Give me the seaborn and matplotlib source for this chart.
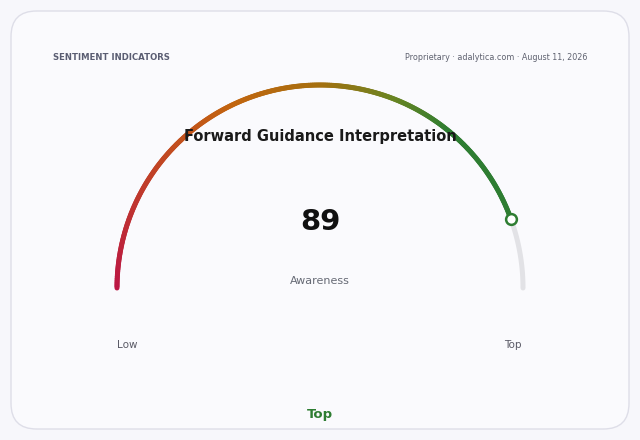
import numpy as np
import matplotlib
matplotlib.use("Agg")
import matplotlib.pyplot as plt
from matplotlib.collections import LineCollection
from matplotlib.colors import LinearSegmentedColormap
from matplotlib.patches import FancyBboxPatch
import seaborn as sns

# gauge data
value = 89
min_value = 0
max_value = 100
metric_label = 'Awareness'
title = 'Forward Guidance Interpretation'
band_label = 'Top'
end_labels = ['Low', 'Top']
gradient_stops = [0.0, 0.25, 0.36, 0.5, 0.62, 0.72, 1.0]
gradient_colors = ['#bb1644', '#c24e1e', '#c2650f', '#a66f0f', '#6a8422',
                   '#2e7d32', '#2e7d32']

sns.set_theme(style="white")
plt.rcParams['font.family'] = ['DejaVu Sans']

W, H = 640, 440
fig = plt.figure(figsize=(6.4, 4.4), dpi=100)
fig.patch.set_facecolor('#f7f7fb')

# card
card = FancyBboxPatch((11 / W, 11 / H), 618 / W, 418 / H,
                      boxstyle="round,pad=0,rounding_size=0.04",
                      transform=fig.transFigure, facecolor='#fafafd',
                      edgecolor='#dedee8', linewidth=1.0, mutation_aspect=W / H,
                      zorder=0.5)
fig.patches.append(card)

# gauge axes: centre at (320, 288) px, radius 203 px
cx, cy, r = 320, 288, 203
ax = fig.add_axes([0, 0, 1, 1])
ax.set_zorder(2)
ax.set_xlim((0 - cx) / r, (W - cx) / r)
ax.set_ylim((cy - H) / r, cy / r)
ax.axis('off')
ax.patch.set_alpha(0)

frac = (value - min_value) / (max_value - min_value)
theta_val = np.pi * (1 - frac)

# background track
t_bg = np.linspace(theta_val, 0, 100)
ax.plot(np.cos(t_bg), np.sin(t_bg), color='#e2e2e6', lw=3.6,
        solid_capstyle='round', zorder=1)

# gradient value arc
n = 300
t = np.linspace(np.pi, theta_val, n)
pts = np.column_stack([np.cos(t), np.sin(t)])
segs = np.stack([pts[:-1], pts[1:]], axis=1)
pos = np.linspace(0, 1, n - 1) * frac
cmap = LinearSegmentedColormap.from_list('gauge', list(zip(gradient_stops, gradient_colors)))
lc = LineCollection(segs, colors=cmap(pos), linewidths=3.6, capstyle='round', zorder=2)
ax.add_collection(lc)

# marker
ax.scatter([np.cos(theta_val)], [np.sin(theta_val)], s=60, facecolor='white',
           edgecolor='#2e7d32', linewidth=1.8, zorder=3)


def ftext(x, y, s, **kw):
    fig.text(x / W, 1 - y / H, s, zorder=5, **kw)


ftext(53, 58, 'SENTIMENT INDICATORS', fontsize=6.1, fontweight='bold',
      color='#5a5d72', ha='left', va='center')
ftext(587, 58, 'Proprietary \u00b7 adalytica.com \u00b7 August 11, 2026', fontsize=5.75,
      color='#5f6270', ha='right', va='center')
ftext(320, 137, title, fontsize=10.5, fontweight='bold', color='#1a1a1a',
      ha='center', va='center')
ftext(320, 222, str(value), fontsize=21, fontweight='bold', color='#111111',
      ha='center', va='center')
ftext(320, 281, metric_label, fontsize=8, color='#666a75', ha='center', va='center')
ftext(127, 345, end_labels[0], fontsize=7.5, color='#5a5a66', ha='center', va='center')
ftext(513, 345, end_labels[1], fontsize=7.5, color='#5a5a66', ha='center', va='center')
ftext(320, 414, band_label, fontsize=9.5, fontweight='bold', color='#2e7d32',
      ha='center', va='center')

fig.savefig('out.png', dpi=100, facecolor=fig.get_facecolor())
